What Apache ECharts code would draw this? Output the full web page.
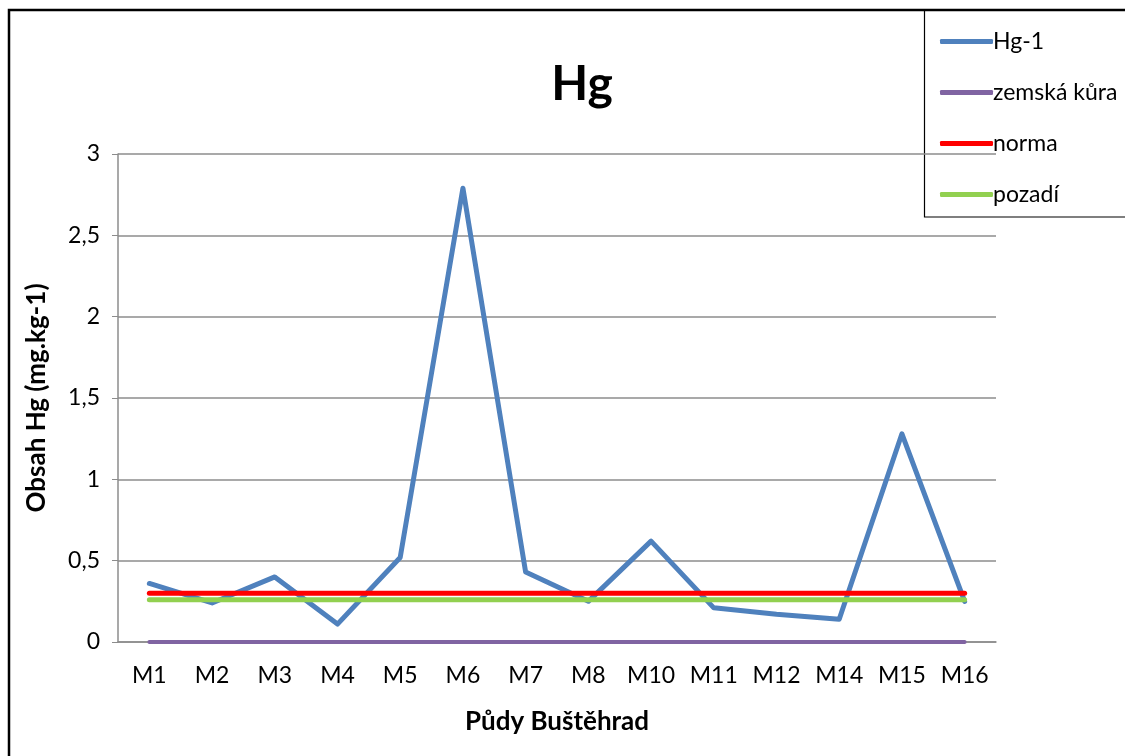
<!DOCTYPE html>
<html>
<head>
<meta charset="utf-8">
<script src="https://cdn.jsdelivr.net/npm/echarts@6/dist/echarts.min.js"></script>
<style>
  html, body { margin: 0; padding: 0; background: #fff; }
  #chart { width: 1125px; height: 756px; }
</style>
</head>
<body>
<div id="chart"></div>
<script>
// kategorie (odběrová místa)
const categories = ['M1', 'M2', 'M3', 'M4', 'M5', 'M6', 'M7', 'M8', 'M10', 'M11', 'M12', 'M14', 'M15', 'M16'];
// naměřené hodnoty Hg
const hgValues = [0.36, 0.24, 0.40, 0.11, 0.52, 2.79, 0.43, 0.25, 0.62, 0.21, 0.17, 0.14, 1.28, 0.25];
// konstantní srovnávací hodnoty
const kuraValues = [0, 0, 0, 0, 0, 0, 0, 0, 0, 0, 0, 0, 0, 0];
const normaValues = [0.3, 0.3, 0.3, 0.3, 0.3, 0.3, 0.3, 0.3, 0.3, 0.3, 0.3, 0.3, 0.3, 0.3];
const pozadiValues = [0.26, 0.26, 0.26, 0.26, 0.26, 0.26, 0.26, 0.26, 0.26, 0.26, 0.26, 0.26, 0.26, 0.26];
const yTicks = [0, 0.5, 1, 1.5, 2, 2.5, 3];

const fontFamily = 'Lato, "Open Sans", sans-serif';
const gridColor = '#8c8c8c';

const chart = echarts.init(document.getElementById('chart'));

const makeLine = (name, data, color, width) => ({
  name,
  type: 'line',
  data,
  showSymbol: false,
  symbol: 'none',
  lineStyle: { color, width, cap: 'round', join: 'round' },
  itemStyle: { color },
  emphasis: { disabled: true }
});

const option = {
  backgroundColor: '#fff',
  animation: false,
  title: {
    text: 'Hg',
    left: 577,
    top: 56,
    textAlign: 'center',
    textStyle: { fontFamily, fontSize: 48, fontWeight: 'bold', color: '#000' }
  },
  legend: {
    orient: 'vertical',
    left: 935,
    top: 25,
    itemWidth: 53,
    itemHeight: 5,
    itemGap: 28,
    icon: 'roundRect',
    data: ['Hg-1', 'zemská kůra', 'norma', 'pozadí'],
    textStyle: { fontFamily, fontSize: 23, color: '#000', padding: [0, 0, 0, -5] },
    selectedMode: false
  },
  grid: {
    left: 118,
    right: 129,
    top: 154,
    bottom: 114
  },
  xAxis: {
    type: 'category',
    data: categories,
    boundaryGap: true,
    name: 'Půdy Buštěhrad',
    nameLocation: 'middle',
    nameGap: 67,
    nameTextStyle: { fontFamily, fontSize: 26, fontWeight: 'bold', color: '#000' },
    axisLine: { lineStyle: { color: gridColor, width: 1.5 } },
    axisTick: { show: false },
    axisLabel: { fontFamily, fontSize: 23, color: '#000', margin: 22 }
  },
  yAxis: {
    type: 'value',
    min: yTicks[0],
    max: yTicks[yTicks.length - 1],
    interval: 0.5,
    name: 'Obsah Hg (mg.kg-1)',
    nameLocation: 'middle',
    nameGap: 68,
    nameRotate: 90,
    nameTextStyle: { fontFamily, fontSize: 26, fontWeight: 'bold', color: '#000' },
    axisLine: { show: true, lineStyle: { color: gridColor, width: 1.5 } },
    axisTick: { show: true, length: 6, inside: false, lineStyle: { color: gridColor } },
    axisLabel: {
      fontFamily, fontSize: 23, color: '#000', margin: 18,
      formatter: v => String(v).replace('.', ',')
    },
    splitLine: { lineStyle: { color: gridColor, width: 1.5 } }
  },
  graphic: [
    {
      type: 'rect',
      shape: { x: 9, y: 10, width: 1130, height: 760 },
      style: { fill: 'none', stroke: '#000', lineWidth: 2.5 },
      z: 100
    },
    {
      type: 'rect',
      shape: { x: 924.5, y: 10, width: 210, height: 207 },
      style: { fill: '#fff', stroke: '#000', lineWidth: 1.2 },
      z: 0
    }
  ],
  series: [
    makeLine('Hg-1', hgValues, '#4F81BD', 5),
    makeLine('zemská kůra', kuraValues, '#8064A2', 4),
    makeLine('norma', normaValues, '#FF0000', 5),
    makeLine('pozadí', pozadiValues, '#92D050', 5)
  ]
};

chart.setOption(option);
</script>
</body>
</html>
